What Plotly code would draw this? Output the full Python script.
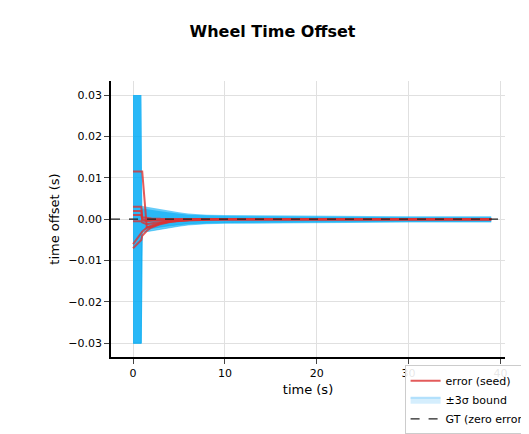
import plotly.graph_objects as go

# time samples (s)
t = [0, 0.9, 1.0, 1.5, 2, 3, 4, 5, 6, 7, 8, 10, 15, 20, 30, 39]

# +3 sigma bound per seed (bound is symmetric)
bound_a = [0.030, 0.030, 0.0032, 0.0030, 0.0028, 0.0025, 0.0021, 0.0017, 0.0014, 0.0012, 0.0011, 0.0010, 0.0009, 0.0008, 0.0007, 0.0007]
bound_b = [0.030, 0.030, 0.0026, 0.0024, 0.0022, 0.0019, 0.0016, 0.0013, 0.0011, 0.0010, 0.0009, 0.0008, 0.0007, 0.0006, 0.0005, 0.0005]

# error trajectories for each seed
errors = [
    [0.0115, 0.0115, 0.0115, -0.0020, -0.0018, -0.0010, -0.0006, -0.0004, -0.0003, -0.0002, -0.0001, 0.0, 0.0, 0.0, 0.0, 0.0],
    [0.0030, 0.0030, 0.0005, 0.0003, 0.0002, 0.0001, 0.0001, 0.0, 0.0, 0.0, 0.0, 0.0, 0.0, 0.0, 0.0, 0.0],
    [0.0020, 0.0020, -0.0003, -0.0005, -0.0004, -0.0003, -0.0002, -0.0001, 0.0, 0.0, 0.0, 0.0, 0.0, 0.0, 0.0, 0.0],
    [0.0010, 0.0010, 0.0000, -0.0002, -0.0002, -0.0001, 0.0, 0.0, 0.0, 0.0, 0.0, 0.0, 0.0, 0.0, 0.0, 0.0],
    [-0.0005, -0.0005, -0.0008, -0.0012, -0.0010, -0.0007, -0.0005, -0.0003, -0.0002, -0.0001, 0.0, 0.0, 0.0, 0.0, 0.0, 0.0],
    [-0.0070, -0.0050, -0.0040, -0.0028, -0.0020, -0.0012, -0.0007, -0.0004, -0.0002, -0.0001, 0.0, 0.0, 0.0, 0.0, 0.0, 0.0],
    [-0.0060, -0.0035, -0.0030, -0.0020, -0.0015, -0.0009, -0.0005, -0.0003, -0.0002, -0.0001, 0.0, 0.0, 0.0, 0.0, 0.0, 0.0],
]

fig = go.Figure()

for b in [bound_a, bound_b]:
    fig.add_trace(go.Scatter(x=t, y=b, mode='lines', line=dict(width=0),
                             showlegend=False, hoverinfo='skip'))
    fig.add_trace(go.Scatter(x=t, y=[-v for v in b], mode='lines', line=dict(width=0.8, color='rgba(0,170,240,0.6)'),
                             fill='tonexty', fillcolor='rgba(0,170,245,0.6)',
                             showlegend=False, hoverinfo='skip'))

for i, e in enumerate(errors):
    fig.add_trace(go.Scatter(x=t, y=e, mode='lines', line=dict(color='rgba(220,50,50,0.8)', width=2),
                             name='error (seed)', showlegend=(i == 0), legendrank=1))

# legend entry for the band
fig.add_trace(go.Scatter(x=[None], y=[None], mode='lines', fill='toself',
                         fillcolor='rgba(135,206,250,0.35)', line=dict(color='rgba(135,206,250,0.6)'),
                         name='±3σ bound', legendrank=2))

fig.add_hline(y=0, line=dict(color='#222', width=1.2, dash='dash'))
fig.add_trace(go.Scatter(x=[None], y=[None], mode='lines', line=dict(color='#222', width=1.2, dash='dash'),
                         name='GT (zero error)', legendrank=3))

fig.update_layout(
    width=529, height=434,
    paper_bgcolor='white', plot_bgcolor='white',
    font=dict(family='DejaVu Sans', size=11, color='black'),
    title=dict(text='<b>Wheel Time Offset</b>', x=0.5, y=0.96, xanchor='center', font=dict(size=16)),
    margin=dict(l=103, r=32, t=73, b=85, autoexpand=False),
    legend=dict(x=1.07, y=-0.03, xanchor='right', yanchor='top', traceorder='normal',
                bgcolor='rgba(255,255,255,0.9)', bordercolor='#ccc', borderwidth=1, font=dict(size=11)),
    xaxis=dict(title=dict(text='time (s)', standoff=6), range=[-2.4, 40.5], tickvals=[0, 10, 20, 30, 40],
               showgrid=True, gridcolor='#e0e0e0', zeroline=False, showline=True, linecolor='black',
               linewidth=1.5, ticks='outside', ticklen=5),
    yaxis=dict(title=dict(text='time offset (s)', standoff=6), range=[-0.0333, 0.0334],
               tickvals=[-0.03, -0.02, -0.01, 0, 0.01, 0.02, 0.03],
               ticktext=['−0.03', '−0.02', '−0.01', '0.00', '0.01', '0.02', '0.03'],
               showgrid=True, gridcolor='#e0e0e0', zeroline=False, showline=True, linecolor='black',
               linewidth=1.5, ticks='outside', ticklen=5),
)

fig.write_html("out.html")
